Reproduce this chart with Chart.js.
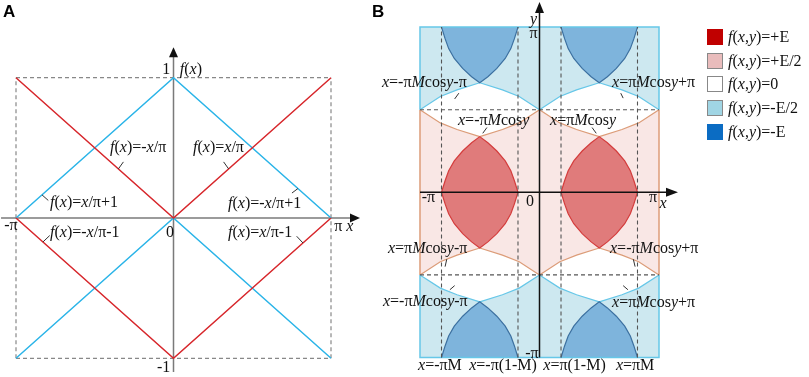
<!DOCTYPE html>
<html>
<head>
<meta charset="utf-8">
<script src="https://cdn.jsdelivr.net/npm/chart.js@4.4.1/dist/chart.umd.min.js"></script>
<style>
  body { margin: 0; background: #fff; width: 809px; height: 377px; overflow: hidden; position: relative;
         font-family: "Liberation Serif", "Times New Roman", serif; }
  canvas { position: absolute; top: 0; }
  #chartA { left: 0; }
  #chartB { left: 370px; }
  .lbl { position: absolute; white-space: nowrap; font-size: 16px; line-height: 16px; color: #111; }
  .panel { position: absolute; top: 3px; font: bold 17px/17px "Liberation Sans", Arial, sans-serif; color: #000; }
  #legend { position: absolute; left: 707px; top: 29px; }
  .item { position: relative; height: 23.7px; }
  .sw { position: absolute; left: 0; top: 0; width: 14px; height: 14px; border: 1px solid #888; }
  .item span { position: absolute; left: 21px; top: 0; font-size: 16px; line-height: 16px; white-space: nowrap; color: #111; }
</style>
</head>
<body>
<canvas id="chartA" width="370" height="377"></canvas>
<canvas id="chartB" width="439" height="377"></canvas>
<div class="panel" style="left:3px">A</div>
<div class="panel" style="left:372px">B</div>
<div id="legend"></div>
<script>
// ---- panel A: x in units of pi ----
const xA = [-1, 0, 1];
const redTop = [1, 0, 1];        // f(x)=-x/π , f(x)=x/π
const redBottom = [0, -1, 0];    // f(x)=-x/π-1 , f(x)=x/π-1
const blueTop = [0, 1, 0];       // f(x)=x/π+1 , f(x)=-x/π+1
const blueBottom = [-1, 0, -1];  // f(x)=x/π , f(x)=-x/π

// ---- panel B: boundary x=-πMcosy (x, y in units of pi) ----
const curveY = [0, 0.07, 0.13, 0.19, 0.25, 0.30, 0.337, 0.38, 0.42, 0.5];
const curveX = [-0.82, -0.79, -0.76, -0.713, -0.643, -0.568, -0.5, -0.31, -0.17, 0];
const M = 0.82;
const dashX = [-M, -(1 - M), 1 - M, M];
const bandY = [-1, -0.5, 0.5, 1];

const legendLabels = ["+E", "+E/2", "0", "-E/2", "-E"];
const legendColors = ["#c00000", "#e9bcbc", "#ffffff", "#a0d5e4", "#0b6cc3"];

// ---------- helpers ----------
const pt = (x, y) => ({ x, y });
const range = (a, b) => { const r = []; if (a <= b) for (let i = a; i <= b; i++) r.push(i); else for (let i = a; i >= b; i--) r.push(i); return r; };
const fx = p => pt(-p.x, p.y);        // mirror about x=0
const fy = p => pt(p.x, -p.y);        // mirror about y=0
const fm = p => pt(p.x, 1 - p.y);     // mirror about y=pi/2
const TIP = 6, LAST = curveX.length - 1;
const c1 = i => pt(curveX[i], curveY[i]);
const c2 = i => pt(-1 - curveX[i], curveY[i]);

function line(points, color, width, extra) {
  return Object.assign({ data: points, showLine: true, borderColor: color, borderWidth: width,
    pointRadius: 0, fill: false, tension: 0 }, extra || {});
}
function area(points, color) {
  return { data: points, showLine: true, borderWidth: 0, borderColor: 'rgba(0,0,0,0)',
    backgroundColor: color, pointRadius: 0, fill: 'shape', tension: 0 };
}
function stack(list) { // first = back
  list.forEach((d, i) => { d.order = list.length - i; });
  return list;
}

const arrowPlugin = {
  id: 'arrows',
  afterDatasetsDraw(chart, args, opts) {
    const { x, y } = chart.scales, ctx = chart.ctx;
    opts.list.forEach(a => {
      const px = x.getPixelForValue(a.x), py = y.getPixelForValue(a.y);
      ctx.save();
      ctx.fillStyle = a.color;
      ctx.beginPath();
      if (a.dir === 'up') {
        ctx.moveTo(px, py); ctx.lineTo(px - a.w / 2, py + a.len); ctx.lineTo(px + a.w / 2, py + a.len);
      } else {
        ctx.moveTo(px, py); ctx.lineTo(px - a.len, py - a.w / 2); ctx.lineTo(px - a.len, py + a.w / 2);
      }
      ctx.closePath(); ctx.fill(); ctx.restore();
    });
  }
};

const labelPlugin = {
  id: 'htmlLabels',
  afterDraw(chart, args, opts) {
    if (chart.$labelsDone) return;
    chart.$labelsDone = true;
    const left = chart.canvas.offsetLeft, top = chart.canvas.offsetTop;
    opts.list.forEach(l => {
      const d = document.createElement('div');
      d.className = 'lbl';
      d.innerHTML = l.html;
      d.style.left = (left + chart.scales.x.getPixelForValue(l.x)) + 'px';
      d.style.top = (top + chart.scales.y.getPixelForValue(l.y)) + 'px';
      const tx = l.align === 'left' ? '0' : l.align === 'right' ? '-100%' : '-50%';
      d.style.transform = 'translate(' + tx + ',-50%)';
      document.body.appendChild(d);
    });
  }
};

function baseOptions(xmin, xmax, ymin, ymax, arrows, labels) {
  return {
    responsive: false, animation: false, events: [],
    layout: { padding: 0 },
    scales: {
      x: { type: 'linear', min: xmin, max: xmax, display: false },
      y: { type: 'linear', min: ymin, max: ymax, display: false }
    },
    plugins: { legend: { display: false }, tooltip: { enabled: false },
      arrows: { list: arrows }, htmlLabels: { list: labels } }
  };
}

// ---------- panel A ----------
const toPts = (xs, ys) => xs.map((x, i) => pt(x, ys[i]));
const grayDash = { borderDash: [4, 3] };
const A_RED = '#d7262b', A_BLUE = '#2ab4e8', A_GRAY = '#888';
const leaderA = [
  [pt(-0.35, 0.35), pt(-0.318, 0.40)],
  [pt(0.35, 0.35), pt(0.318, 0.40)],
  [pt(-0.835, 0.165), pt(-0.795, 0.125)],
  [pt(0.79, 0.21), pt(0.752, 0.178)],
  [pt(-0.829, -0.171), pt(-0.786, -0.125)],
  [pt(0.822, -0.178), pt(0.782, -0.13)]
];
const dsA = stack([
  line([pt(-1, 1), pt(1, 1)], A_GRAY, 1.2, grayDash),
  line([pt(-1, -1), pt(1, -1)], A_GRAY, 1.2, grayDash),
  line([pt(-1, -1), pt(-1, 1)], A_GRAY, 1.2, grayDash),
  line([pt(1, -1), pt(1, 1)], A_GRAY, 1.2, grayDash),
  line([pt(-1.095, 0), pt(1.13, 0)], '#7a7a7a', 1.5),
  line([pt(0, -1.098), pt(0, 1.16)], '#7a7a7a', 1.5),
  line(toPts(xA, blueTop), A_BLUE, 1.5),
  line(toPts(xA, blueBottom), A_BLUE, 1.5),
  line(toPts(xA, redTop), A_RED, 1.5),
  line(toPts(xA, redBottom), A_RED, 1.5),
  ...leaderA.map(p => line(p, '#333', 1))
]);
const labelsA = [
  { html: '1', x: -0.02, y: 1.062, align: 'right' },
  { html: '<i>f</i>(<i>x</i>)', x: 0.04, y: 1.062, align: 'left' },
  { html: '<i>f</i>(<i>x</i>)=-<i>x</i>/π', x: -0.403, y: 0.506, align: 'left' },
  { html: '<i>f</i>(<i>x</i>)=<i>x</i>/π', x: 0.124, y: 0.506, align: 'left' },
  { html: '<i>f</i>(<i>x</i>)=<i>x</i>/π+1', x: -0.784, y: 0.114, align: 'left' },
  { html: '<i>f</i>(<i>x</i>)=-<i>x</i>/π+1', x: 0.346, y: 0.107, align: 'left' },
  { html: '<i>f</i>(<i>x</i>)=-<i>x</i>/π-1', x: -0.784, y: -0.1, align: 'left' },
  { html: '<i>f</i>(<i>x</i>)=<i>x</i>/π-1', x: 0.346, y: -0.1, align: 'left' },
  { html: '-π', x: -1.032, y: -0.05, align: 'center' },
  { html: '0', x: -0.022, y: -0.1, align: 'center' },
  { html: 'π <i>x</i>', x: 1.02, y: -0.06, align: 'left' },
  { html: '-1', x: -0.02, y: -1.062, align: 'right' }
];
new Chart(document.getElementById('chartA'), {
  type: 'scatter',
  data: { datasets: dsA },
  options: baseOptions(-1.1016, 1.2476, -1.1333, 1.5538,
    [{ x: 1.184, y: 0, dir: 'right', len: 10, w: 9, color: '#111' },
     { x: 0, y: 1.217, dir: 'up', len: 10, w: 9, color: '#111' }], labelsA),
  plugins: [arrowPlugin, labelPlugin]
});

// ---------- panel B ----------
const B_LBLUE = '#cde8f0', B_PINK = '#f9e7e5', B_RED = '#e07b7b', B_BLUE = '#7eb4dc';
const S_ORANGE = '#dc9c78', S_CYAN = '#66c7e8', S_RED = '#d43c3c', S_BLUE = '#3c70a0';

const lobeUp = [...range(0, TIP).map(c1), ...range(TIP - 1, 0).map(c2)];
const redLobeL = [...lobeUp, ...lobeUp.slice().reverse().slice(1).map(fy)];
const redLobeR = redLobeL.map(fx);
const blueLobes = [lobeUp.map(fm), lobeUp.map(fm).map(fx), lobeUp.map(fm).map(fy), lobeUp.map(fm).map(fy).map(fx)];

const outer1 = range(TIP, LAST).map(c1);
const outer2 = range(TIP, LAST).map(c2);
const diamondUL = [...outer1, ...outer1.slice(0, -1).reverse().map(fm), ...outer2.slice(1).map(fm), ...outer2.slice(0, -1).reverse()];
const diamonds = [diamondUL, diamondUL.map(fx), diamondUL.map(fy), diamondUL.map(fy).map(fx)];

const quad = pts => [pts, pts.map(fx), pts.map(fy), pts.map(fy).map(fx)];
const orangeCurves = [...quad(outer1), ...quad(outer2)];
const cyanCurves = [...quad(outer1.map(fm)), ...quad(outer2.map(fm))];

const rect = (y0, y1) => [pt(-1, y0), pt(1, y0), pt(1, y1), pt(-1, y1)];
const leaderB = [
  [pt(-0.71, 0.565), pt(-0.675, 0.6)],
  [pt(0.68, 0.6), pt(0.70, 0.57)],
  [pt(-0.475, 0.357), pt(-0.44, 0.392)],
  [pt(0.44, 0.392), pt(0.475, 0.357)],
  [pt(-0.79, -0.45), pt(-0.776, -0.405)],
  [pt(0.785, -0.405), pt(0.8, -0.45)],
  [pt(-0.75, -0.59), pt(-0.71, -0.565)],
  [pt(0.70, -0.565), pt(0.74, -0.59)]
];

const dsB = stack([
  area(rect(bandY[2], bandY[3]), B_LBLUE),
  area(rect(bandY[0], bandY[1]), B_LBLUE),
  area(rect(bandY[1], bandY[2]), B_PINK),
  ...diamonds.map(d => area(d, '#ffffff')),
  area(redLobeL, B_RED),
  area(redLobeR, B_RED),
  ...blueLobes.map(b => area(b, B_BLUE)),
  ...orangeCurves.map(c => line(c, S_ORANGE, 1.2)),
  ...cyanCurves.map(c => line(c, S_CYAN, 1.2)),
  line([pt(-1, bandY[1]), pt(-1, bandY[2])], S_ORANGE, 1.5),
  line([pt(1, bandY[1]), pt(1, bandY[2])], S_ORANGE, 1.5),
  line([pt(-1, bandY[2]), pt(-1, bandY[3]), pt(1, bandY[3]), pt(1, bandY[2])], S_CYAN, 1.5),
  line([pt(-1, bandY[1]), pt(-1, bandY[0]), pt(1, bandY[0]), pt(1, bandY[1])], S_CYAN, 1.5),
  line(redLobeL, S_RED, 1.2),
  line(redLobeR, S_RED, 1.2),
  ...blueLobes.map(b => line(b, S_BLUE, 1.2)),
  ...dashX.map(d => line([pt(d, -1), pt(d, 1)], '#555', 1.1, grayDash)),
  line([pt(-1, bandY[1]), pt(1, bandY[1])], '#555', 1.1, grayDash),
  line([pt(-1, bandY[2]), pt(1, bandY[2])], '#555', 1.1, grayDash),
  line([pt(-1, 0), pt(1.1, 0)], '#111', 1.5),
  line([pt(0, -1), pt(0, 1.1)], '#111', 1.5),
  ...leaderB.map(p => line(p, '#333', 1))
]);

const labelsB = [
  { html: '<i>y</i>', x: -0.05, y: 1.047, align: 'center' },
  { html: 'π', x: -0.05, y: 0.964, align: 'center' },
  { html: '-π', x: -0.93, y: -0.027, align: 'center' },
  { html: '0', x: -0.079, y: -0.051, align: 'center' },
  { html: 'π', x: 0.95, y: -0.03, align: 'center' },
  { html: '<i>x</i>', x: 1.035, y: -0.065, align: 'center' },
  { html: '-π', x: -0.063, y: -0.973, align: 'center' },
  { html: '<i>x</i>=-πM', x: -0.833, y: -1.045, align: 'center' },
  { html: '<i>x</i>=-π(1-M)', x: -0.305, y: -1.045, align: 'center' },
  { html: '<i>x</i>=π(1-M)', x: 0.293, y: -1.045, align: 'center' },
  { html: '<i>x</i>=πM', x: 0.80, y: -1.045, align: 'center' },
  { html: '<i>x</i>=-π<i>M</i>cos<i>y</i>-π', x: -1.318, y: 0.669, align: 'left' },
  { html: '<i>x</i>=π<i>M</i>cos<i>y</i>+π', x: 0.607, y: 0.669, align: 'left' },
  { html: '<i>x</i>=-π<i>M</i>cos<i>y</i>', x: -0.682, y: 0.438, align: 'left' },
  { html: '<i>x</i>=π<i>M</i>cos<i>y</i>', x: 0.088, y: 0.438, align: 'left' },
  { html: '<i>x</i>=π<i>M</i>cos<i>y</i>-π', x: -1.268, y: -0.337, align: 'left' },
  { html: '<i>x</i>=-π<i>M</i>cos<i>y</i>+π', x: 0.59, y: -0.337, align: 'left' },
  { html: '<i>x</i>=-π<i>M</i>cos<i>y</i>-π', x: -1.31, y: -0.658, align: 'left' },
  { html: '<i>x</i>=π<i>M</i>cos<i>y</i>+π', x: 0.607, y: -0.664, align: 'left' }
];

new Chart(document.getElementById('chartB'), {
  type: 'scatter',
  data: { datasets: dsB },
  options: baseOptions(-1.4184, 2.2552, -1.1181, 1.1641,
    [{ x: 1.159, y: 0, dir: 'right', len: 12, w: 9, color: '#111' },
     { x: 0, y: 1.152, dir: 'up', len: 11, w: 9, color: '#111' }], labelsB),
  plugins: [arrowPlugin, labelPlugin]
});

// ---------- legend ----------
const legend = document.getElementById('legend');
legendLabels.forEach((lab, i) => {
  const item = document.createElement('div');
  item.className = 'item';
  const sw = document.createElement('div');
  sw.className = 'sw';
  sw.style.background = legendColors[i];
  if (i === 0 || i === 4) sw.style.borderColor = legendColors[i];
  const t = document.createElement('span');
  t.innerHTML = '<i>f</i>(<i>x</i>,<i>y</i>)=' + lab;
  item.appendChild(sw); item.appendChild(t);
  legend.appendChild(item);
});
</script>
</body>
</html>
